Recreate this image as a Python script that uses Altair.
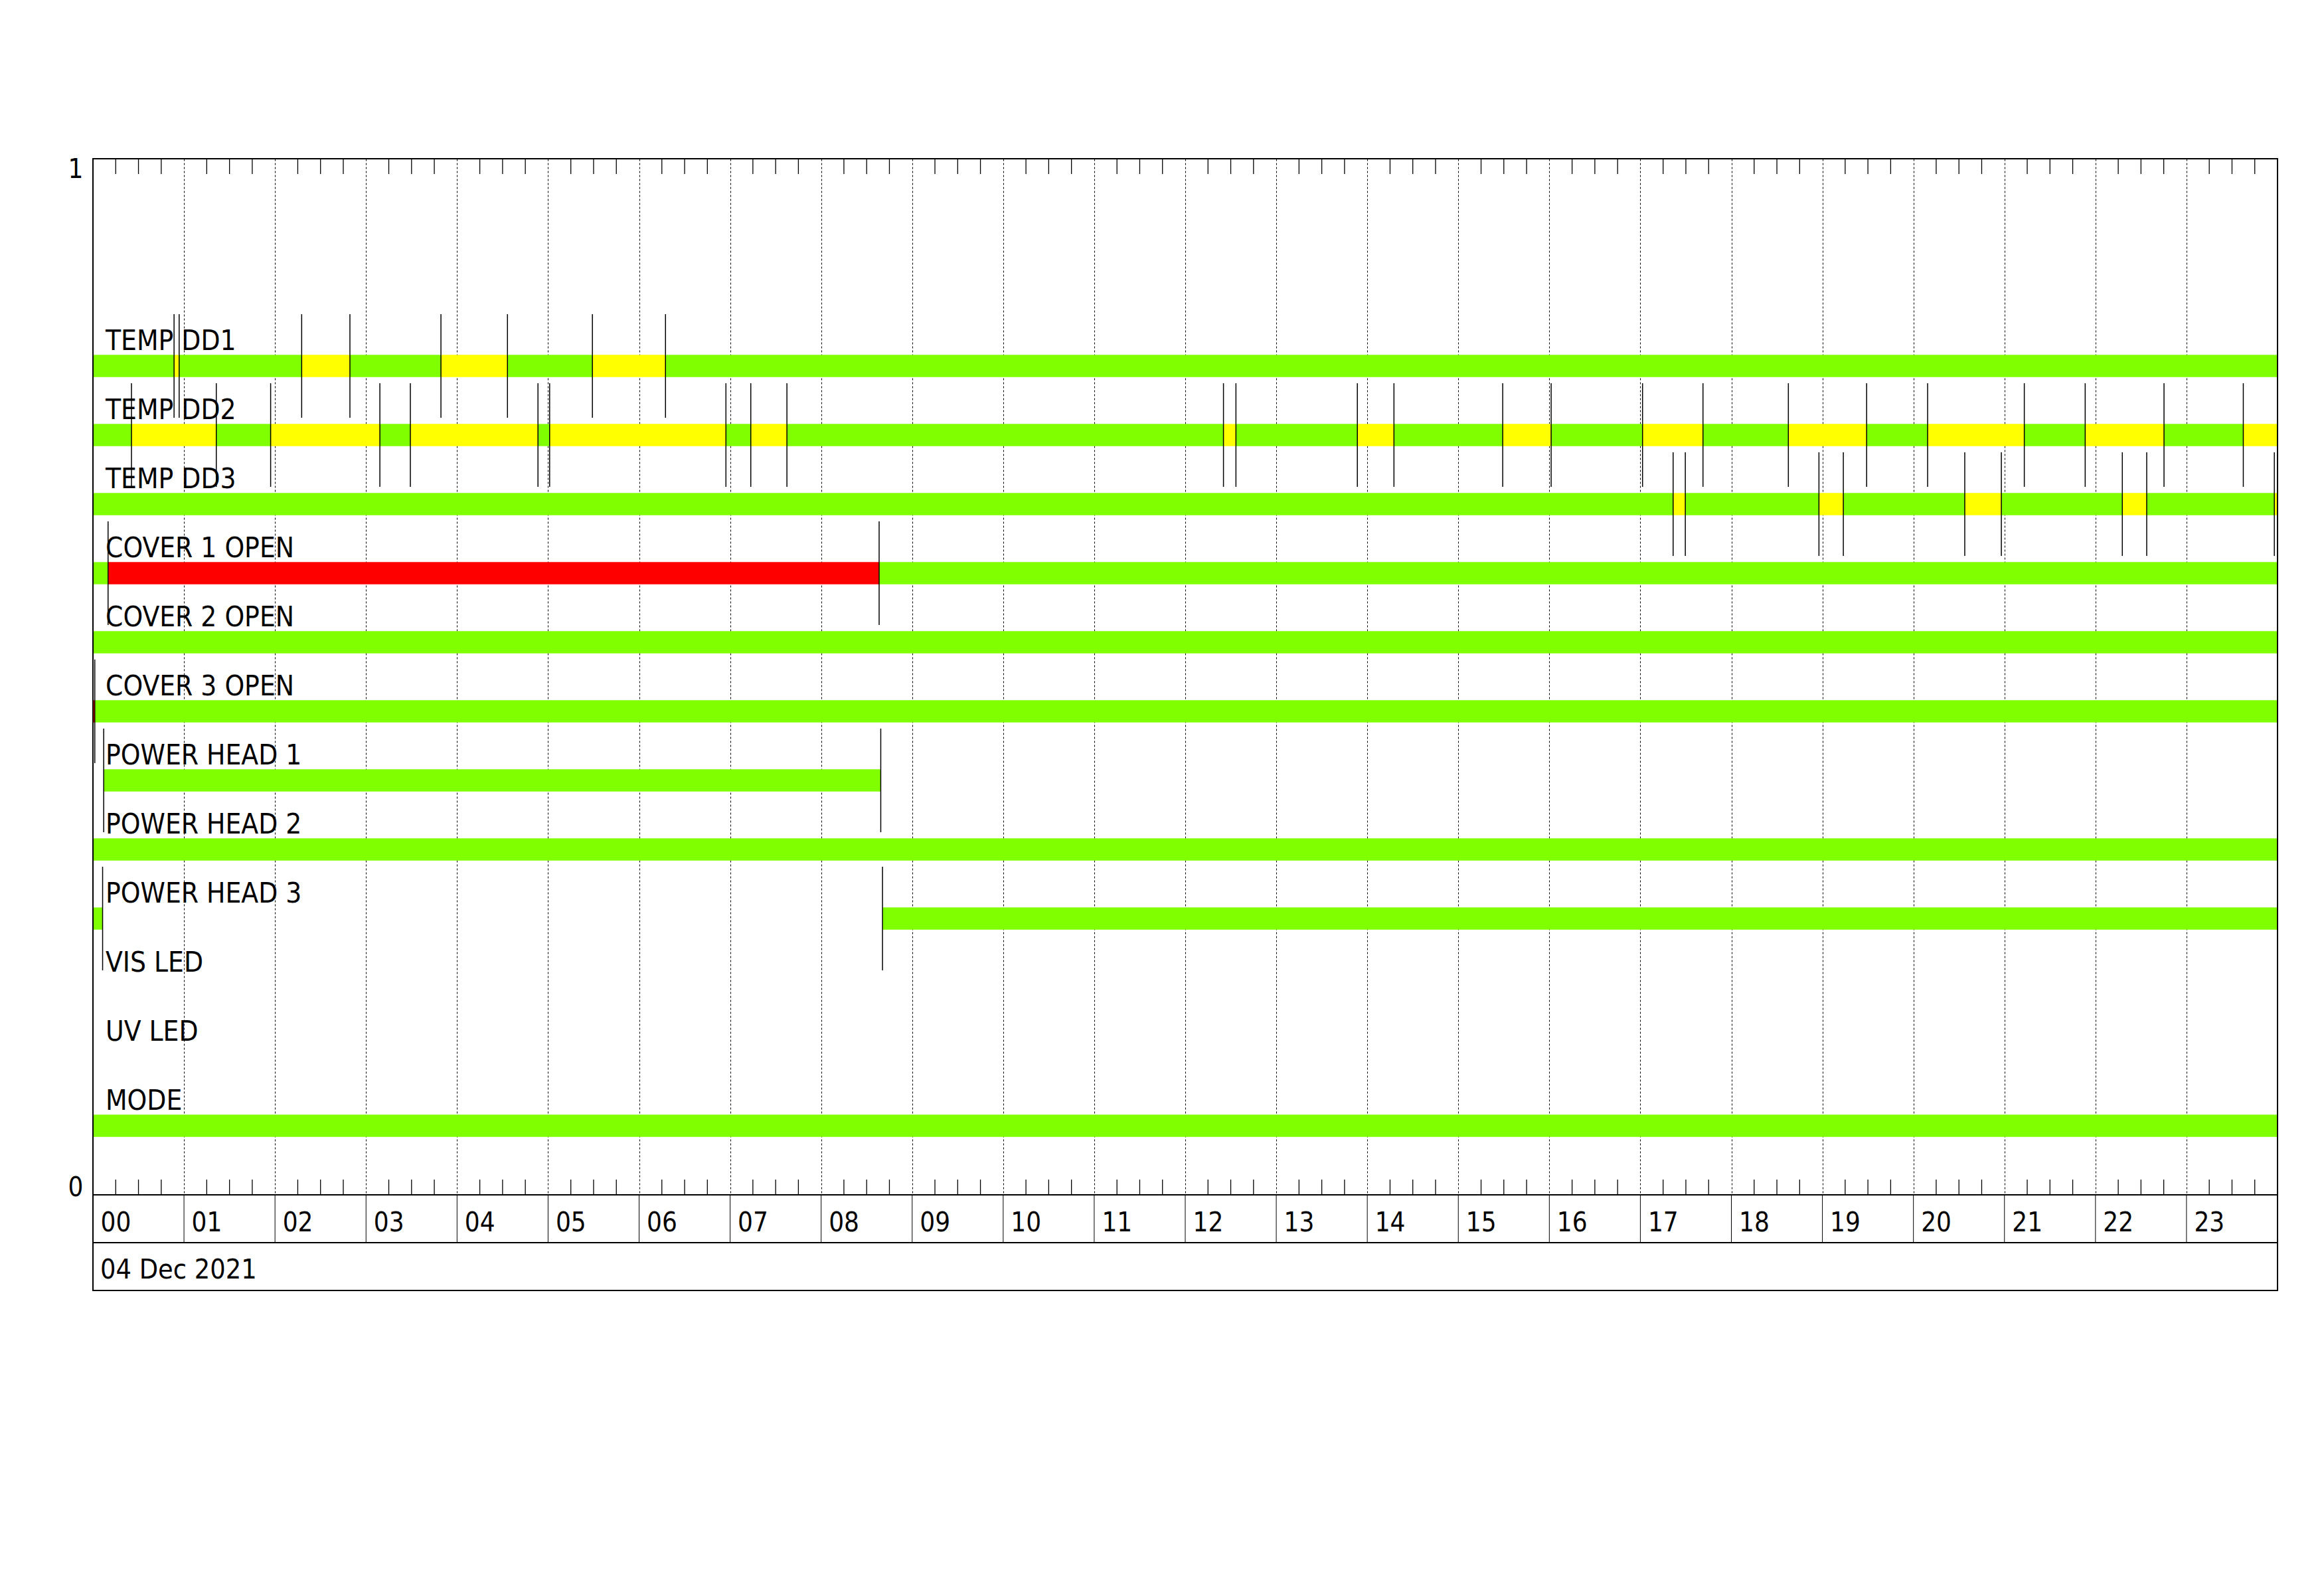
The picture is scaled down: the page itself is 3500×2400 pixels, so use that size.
import altair as alt
import pandas as pd

# ---------------- data ----------------
rows = ["TEMP DD1", "TEMP DD2", "TEMP DD3", "COVER 1 OPEN", "COVER 2 OPEN",
        "COVER 3 OPEN", "POWER HEAD 1", "POWER HEAD 2", "POWER HEAD 3",
        "VIS LED", "UV LED", "MODE"]

hour_labels = ["00", "01", "02", "03", "04", "05", "06", "07", "08", "09", "10", "11",
               "12", "13", "14", "15", "16", "17", "18", "19", "20", "21", "22", "23"]
date_label = ["04 Dec 2021"]
y_tick_values = [0, 1]

# state change times (hours) and the state between consecutive times
dd1_breaks = [0, 0.891, 0.947, 2.293, 2.823, 3.823, 4.554, 5.487, 6.290, 24]
dd1_states = ["ok", "warn", "ok", "warn", "ok", "warn", "ok", "warn", "ok"]

dd2_breaks = [0, 0.423, 1.355, 1.952, 3.152, 3.487, 4.889, 5.017, 6.954, 7.227, 7.624,
              12.420, 12.557, 13.891, 14.293, 15.488, 16.020, 17.024, 17.688, 18.626,
              19.486, 20.156, 21.218, 21.887, 22.753, 23.624, 24]
dd2_states = ["ok", "warn", "ok", "warn", "ok", "warn", "ok", "warn", "ok", "warn",
              "ok", "warn", "ok", "warn", "ok", "warn", "ok", "warn", "ok", "warn",
              "ok", "warn", "ok", "warn", "ok", "warn"]

dd3_breaks = [0, 17.360, 17.494, 18.962, 19.230, 20.564, 20.966, 22.295, 22.563, 23.965, 24]
dd3_states = ["ok", "warn", "ok", "warn", "ok", "warn", "ok", "warn", "ok", "warn"]

cover1_breaks = [0, 0.166, 8.637, 24]
cover1_states = ["ok", "alarm", "ok"]

cover2_breaks = [0, 24]
cover2_states = ["ok"]

cover3_breaks = [0, 0.02, 24]
cover3_states = ["alarm", "ok"]

ph1_breaks = [0, 0.118, 8.655, 24]
ph1_states = ["none", "ok", "none"]

ph2_breaks = [0, 24]
ph2_states = ["ok"]

ph3_breaks = [0, 0.106, 8.674, 24]
ph3_states = ["ok", "none", "ok"]

vis_breaks = [0, 24]
vis_states = ["none"]

uv_breaks = [0, 24]
uv_states = ["none"]

mode_breaks = [0, 24]
mode_states = ["ok"]

series = {
    "TEMP DD1": (dd1_breaks, dd1_states),
    "TEMP DD2": (dd2_breaks, dd2_states),
    "TEMP DD3": (dd3_breaks, dd3_states),
    "COVER 1 OPEN": (cover1_breaks, cover1_states),
    "COVER 2 OPEN": (cover2_breaks, cover2_states),
    "COVER 3 OPEN": (cover3_breaks, cover3_states),
    "POWER HEAD 1": (ph1_breaks, ph1_states),
    "POWER HEAD 2": (ph2_breaks, ph2_states),
    "POWER HEAD 3": (ph3_breaks, ph3_states),
    "VIS LED": (vis_breaks, vis_states),
    "UV LED": (uv_breaks, uv_states),
    "MODE": (mode_breaks, mode_states),
}

state_domain = ["ok", "warn", "alarm"]
state_colors = ["#7FFF00", "#FFFF00", "#FF0000"]

# ---------------- tables ----------------
n = len(rows)
seg_recs, line_recs, label_recs = [], [], []
for i, name in enumerate(rows):
    c = (n - i) / 15.0
    label_recs.append({"row": name, "c": c})
    b, s = series[name]
    for k, st in enumerate(s):
        if st != "none":
            seg_recs.append({"row": name, "start": b[k], "end": b[k + 1], "state": st,
                             "y0": c - 0.0107, "y1": c + 0.0107})
    for t in b[1:-1]:
        line_recs.append({"row": name, "t": t, "y0": c - 0.05, "y1": c + 0.05})

segs = pd.DataFrame(seg_recs)
lines = pd.DataFrame(line_recs)
labels = pd.DataFrame(label_recs)
quarters = pd.DataFrame({"t": [h + q for h in range(24) for q in (0.25, 0.5, 0.75)]})
hours_inner = pd.DataFrame({"t": list(range(1, 24))})
box = pd.DataFrame({"x0": [0], "x1": [24], "y0": [0], "y1": [1], "label": date_label})

FONT = "DejaVu Sans Condensed, DejaVu Sans, sans-serif"
W, H = 3290, 1560

xscale = alt.Scale(domain=[0, 24], nice=False, zero=False)
yscale = alt.Scale(domain=[0, 1], nice=False)

label_expr = "[" + ",".join(repr(l) for l in hour_labels) + "][datum.value]"
xaxis = alt.Axis(values=list(range(24)), labelExpr=label_expr, labelAlign="left",
                 labelOffset=11, labelBaseline="middle", labelPadding=42, ticks=False,
                 tickSize=0, domain=False, grid=True, gridDash=[3, 3],
                 gridColor="#000000", gridOpacity=1, gridWidth=1,
                 labelFont=FONT, labelFontSize=40, labelColor="black",
                 labelFlush=False, labelOverlap=False, title=None)
yaxis = alt.Axis(values=y_tick_values, labelFlush=True, ticks=False, tickSize=0,
                 domain=False, grid=False, labelPadding=15, labelFont=FONT,
                 labelFontSize=40, labelColor="black", format="d", title=None,
                 labelOffset={"condition": {"test": "datum.value <= 0", "value": 9},
                              "value": -4})

bars = alt.Chart(segs).mark_rect().encode(
    x=alt.X("start:Q", scale=xscale, axis=xaxis),
    x2="end:Q",
    y=alt.Y("y0:Q", scale=yscale, axis=yaxis),
    y2="y1:Q",
    color=alt.Color("state:N", scale=alt.Scale(domain=state_domain, range=state_colors),
                    legend=None),
)

trans = alt.Chart(lines).mark_rule(color="black", strokeWidth=1.5).encode(
    x=alt.X("t:Q", scale=xscale, axis=xaxis),
    y=alt.Y("y0:Q", scale=yscale, axis=yaxis),
    y2="y1:Q",
)

row_text = alt.Chart(labels).mark_text(
    align="left", baseline="alphabetic", dy=-24, font=FONT, fontSize=42, color="black"
).encode(
    x=alt.value(19),
    y=alt.Y("c:Q", scale=yscale, axis=yaxis),
    text="row:N",
)

top_ticks = alt.Chart(quarters).mark_rule(color="black", strokeWidth=1.3).encode(
    x=alt.X("t:Q", scale=xscale, axis=xaxis),
    y=alt.value(0), y2=alt.value(23),
)
bottom_ticks = alt.Chart(quarters).mark_rule(color="black", strokeWidth=1.3).encode(
    x=alt.X("t:Q", scale=xscale, axis=xaxis),
    y=alt.value(H - 23), y2=alt.value(H),
)
plot_border = alt.Chart(box).mark_rect(fillOpacity=0, stroke="black", strokeWidth=2).encode(
    x=alt.X("x0:Q", scale=xscale, axis=xaxis),
    x2="x1:Q",
    y=alt.Y("y0:Q", scale=yscale, axis=yaxis),
    y2="y1:Q",
)
hour_box_lines = alt.Chart(hours_inner).mark_rule(color="black", strokeWidth=1).encode(
    x=alt.X("t:Q", scale=xscale, axis=xaxis),
    y=alt.value(H), y2=alt.value(H + 72),
)
outer_box = alt.Chart(box).mark_rect(fillOpacity=0, stroke="black", strokeWidth=2).encode(
    x=alt.X("x0:Q", scale=xscale, axis=xaxis),
    x2="x1:Q",
    y=alt.value(H), y2=alt.value(H + 144),
)
mid_line = alt.Chart(box).mark_rule(color="black", strokeWidth=2).encode(
    x=alt.X("x0:Q", scale=xscale, axis=xaxis),
    x2="x1:Q",
    y=alt.value(H + 72),
)
date_text = alt.Chart(box).mark_text(
    align="left", baseline="middle", dx=11, font=FONT, fontSize=41, color="black"
).encode(
    x=alt.X("x0:Q", scale=xscale, axis=xaxis),
    y=alt.value(H + 114),
    text="label:N",
)

chart = alt.layer(
    bars, trans, row_text, top_ticks, bottom_ticks, plot_border, hour_box_lines,
    outer_box, mid_line, date_text
).properties(
    width=W, height=H,
    autosize=alt.AutoSizeParams(type="none"),
    padding={"left": 132, "top": 231, "right": 60, "bottom": 200},
).configure_view(
    stroke="black", strokeWidth=2
).configure(background="white")

chart.save("out.html", embed_options={"renderer": "svg", "actions": False})
